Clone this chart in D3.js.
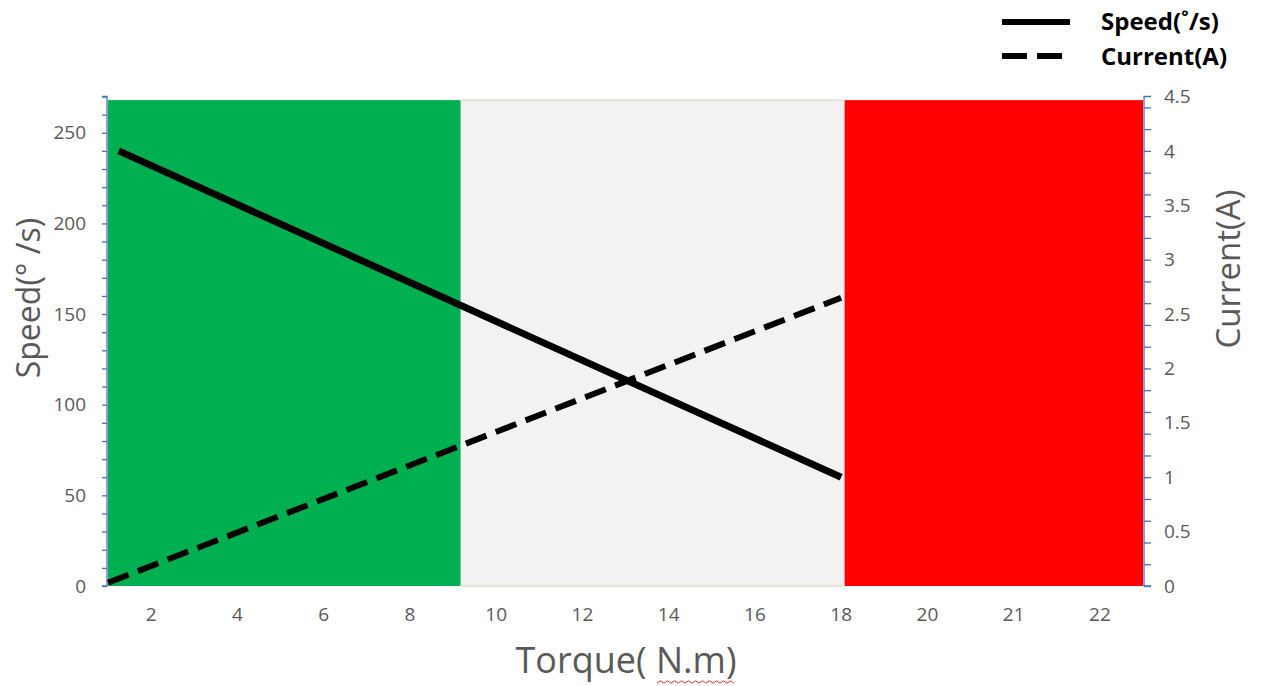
<!DOCTYPE html>
<html><head><meta charset="utf-8">
<script src="https://cdn.jsdelivr.net/npm/d3@7"></script>
<style>body{margin:0;background:#fff;}svg{display:block;font-family:"Open Sans","Noto Sans",sans-serif;}</style>
</head><body>
<svg id="c" width="1266" height="686"></svg>
<script>
// x category labels
const categories = ["2","4","6","8","10","12","14","16","18","20","21","22"];
// torque positions of the lines (continuous torque, N.m)
const speedTorque = [1.25, 18];
const speedValues = [240, 60];
const currentTorque = [1, 18];
const currentValues = [0.03, 2.65];
// operating zones (torque range) and colours
const zoneStart = [1, 9.18, 18.08];
const zoneEnd = [9.18, 18.08, 25];
const zoneColors = ["#00b050", "#f2f2f2", "#ff0000"];
const zoneTop = 268;
const leftTicks = [0, 50, 100, 150, 200, 250];
const rightTicks = [0, 0.5, 1, 1.5, 2, 2.5, 3, 3.5, 4, 4.5];

const svg = d3.select("#c");
const L = 108, R = 1143, T = 96.5, B = 586;
const xBand = d3.scaleBand().domain(categories).range([L, R]).padding(0);
const xT = d3.scaleLinear().domain([1, 25]).range([L, R]);
const yL = d3.scaleLinear().domain([0, 270]).range([B, T]);
const yR = d3.scaleLinear().domain([0, 4.5]).range([B, T]);

// zones
svg.append("g").selectAll("rect").data(zoneStart).join("rect")
  .attr("x", (d) => xT(d)).attr("width", (d, i) => xT(zoneEnd[i]) - xT(d))
  .attr("y", yL(zoneTop)).attr("height", B - yL(zoneTop))
  .attr("fill", (d, i) => zoneColors[i]);
// beige border of the middle zone
svg.append("g").selectAll("line").data([zoneTop, 0]).join("line")
  .attr("x1", xT(zoneStart[1])).attr("x2", xT(zoneEnd[1]))
  .attr("y1", d => yL(d)).attr("y2", d => yL(d))
  .attr("stroke", "#e9e5d9").attr("stroke-width", 2.5);

// left axis
const axisColor = "#4472c4";
const gl = svg.append("g").attr("transform", `translate(${L - 1},0)`)
  .call(d3.axisLeft(yL).ticks(27).tickSize(5).tickFormat(""));
gl.selectAll("path").attr("stroke", axisColor).attr("stroke-width", 1.3).attr("d", `M-5,${T}H0V${B}H-5`);
gl.selectAll("line").attr("stroke", axisColor).attr("stroke-width", 1.3);
svg.append("g").selectAll("text").data(leftTicks).join("text")
  .attr("x", 86).attr("y", d => yL(d)).attr("dy", "0.35em").attr("text-anchor", "end")
  .attr("font-size", 19).attr("fill", "#595959").text(d => d);

// right axis
const gr = svg.append("g").attr("transform", `translate(${R + 1},0)`)
  .call(d3.axisRight(yR).ticks(18).tickSize(7).tickFormat(""));
gr.selectAll("path").attr("stroke", axisColor).attr("stroke-width", 1.3).attr("d", `M7,${T}H0V${B}H7`);
gr.selectAll("line").attr("stroke", axisColor).attr("stroke-width", 1.3);
svg.append("g").selectAll("text").data(rightTicks).join("text")
  .attr("x", 1164).attr("y", d => yR(d)).attr("dy", "0.35em").attr("text-anchor", "start")
  .attr("font-size", 19).attr("fill", "#595959").text(d => d);

// x labels
const gx = svg.append("g").attr("transform", `translate(0,${B})`)
  .call(d3.axisBottom(xBand).tickSize(0).tickPadding(22));
gx.select(".domain").remove();
gx.selectAll("text").attr("font-size", 19).attr("fill", "#595959").attr("font-family", "Open Sans");

// lines
const lineGen = d3.line().x(d => xT(d[0])).y(d => d[1]);
svg.append("path").datum(speedTorque.map((t, i) => [t, yL(speedValues[i])]))
  .attr("d", lineGen).attr("fill", "none").attr("stroke", "#000").attr("stroke-width", 7);
svg.append("path").datum(currentTorque.map((t, i) => [t, yR(currentValues[i])]))
  .attr("d", lineGen).attr("fill", "none").attr("stroke", "#000").attr("stroke-width", 6)
  .attr("stroke-dasharray", "22,10");

// axis titles
svg.append("text").attr("x", 626).attr("y", 673).attr("text-anchor", "middle")
  .attr("font-size", 36).attr("fill", "#595959").text("Torque( N.m)");
// spellcheck squiggle
const sq = d3.range(0, 23).map(i => [657 + i * 3.5, 682 + (i % 2 ? -1.2 : 1.2)]);
svg.append("path").attr("d", d3.line()(sq)).attr("fill", "none").attr("stroke", "#e03030").attr("stroke-width", 1);

svg.append("text").attr("transform", "translate(40,298) rotate(-90)").attr("text-anchor", "middle")
  .attr("font-size", 32).attr("fill", "#595959").text("Speed(° /s)");
svg.append("text").attr("transform", "translate(1240,269) rotate(-90)").attr("text-anchor", "middle")
  .attr("font-size", 33).attr("fill", "#595959").text("Current(A)");

// legend
const legNames = ["Speed(˚/s)", "Current(A)"];
const leg = svg.append("g");
leg.append("line").attr("x1", 1002).attr("x2", 1070).attr("y1", 22).attr("y2", 22)
  .attr("stroke", "#000").attr("stroke-width", 6);
leg.append("line").attr("x1", 1002).attr("x2", 1062).attr("y1", 56).attr("y2", 56)
  .attr("stroke", "#000").attr("stroke-width", 6).attr("stroke-dasharray", "25,10");
leg.selectAll("text").data(legNames).join("text")
  .attr("x", 1101).attr("y", (d, i) => 22 + i * 35).attr("dy", "0.35em")
  .attr("font-size", 24).attr("font-weight", "bold").attr("fill", "#000").text(d => d);
</script>
</body></html>
